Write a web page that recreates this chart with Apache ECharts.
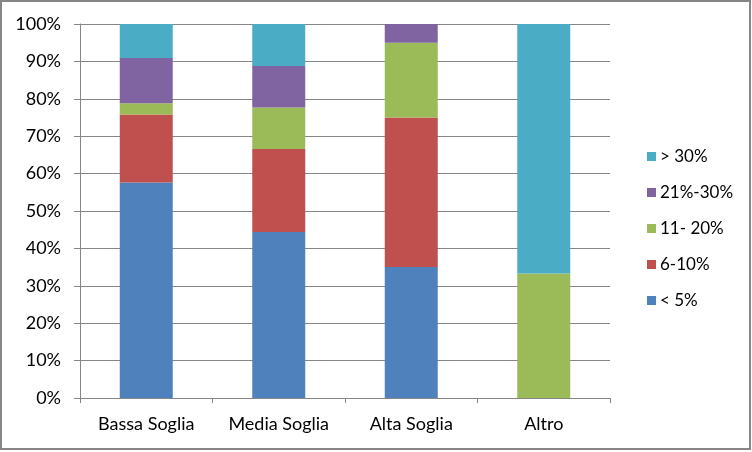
<!DOCTYPE html>
<html><head><meta charset="utf-8">
<script src="https://cdn.jsdelivr.net/npm/echarts@6/dist/echarts.min.js"></script>
<style>html,body{margin:0;padding:0;background:#fff}#c{width:752px;height:452px}</style>
</head><body><div id="c"></div>
<script>
const categories = ['Bassa Soglia', 'Media Soglia', 'Alta Soglia', 'Altro'];
const seriesNames = ['< 5%', '6-10%', '11- 20%', '21%-30%', '> 30%'];
const lt5 = [57.6, 44.4, 35.0, 0];
const r6_10 = [18.2, 22.2, 40.0, 0];
const r11_20 = [3.0, 11.1, 20.0, 33.3];
const r21_30 = [12.1, 11.1, 5.0, 0];
const gt30 = [9.1, 11.2, 0, 66.7];
const yTicks = [0, 10, 20, 30, 40, 50, 60, 70, 80, 90, 100];

const colors = ['#4F81BD', '#C0504D', '#9BBB59', '#8064A2', '#4BACC6'];
const values = [lt5, r6_10, r11_20, r21_30, gt30];
const font = 'Lato, "Open Sans", sans-serif';

const chart = echarts.init(document.getElementById('c'), null, {renderer: 'canvas'});
chart.setOption({
  animation: false,
  graphic: [{type: 'rect', shape: {x: 1, y: 1, width: 749, height: 448}, style: {fill: 'none', stroke: '#868686', lineWidth: 2}, silent: true}],
  grid: {left: 80, right: 142, top: 24, bottom: 54},
  legend: {
    orient: 'vertical', left: 642, top: 143,
    data: seriesNames.slice().reverse(),
    itemWidth: 9, itemHeight: 9, itemGap: 19, icon: 'rect',
    textStyle: {fontFamily: font, fontSize: 17, color: '#000', lineHeight: 17, padding: [0, 0, 0, -1]}
  },
  xAxis: {
    type: 'category', data: categories,
    axisLine: {lineStyle: {color: '#868686'}},
    axisTick: {show: true, length: 5, lineStyle: {color: '#868686'}},
    axisLabel: {fontFamily: font, fontSize: 18, color: '#000', margin: 17}
  },
  yAxis: {
    type: 'value', min: 0, max: 100, interval: 10,
    axisLine: {show: true, lineStyle: {color: '#868686'}},
    axisTick: {show: true, length: 6, lineStyle: {color: '#868686'}},
    splitLine: {lineStyle: {color: '#868686'}},
    axisLabel: {fontFamily: font, fontSize: 18, color: '#000', margin: 19,
      formatter: v => (yTicks.includes(v) ? v + '%' : '')}
  },
  series: values.map((d, i) => ({
    name: seriesNames[i], type: 'bar', stack: 'total', data: d,
    barWidth: '40%', itemStyle: {color: colors[i]}
  }))
});
</script></body></html>
